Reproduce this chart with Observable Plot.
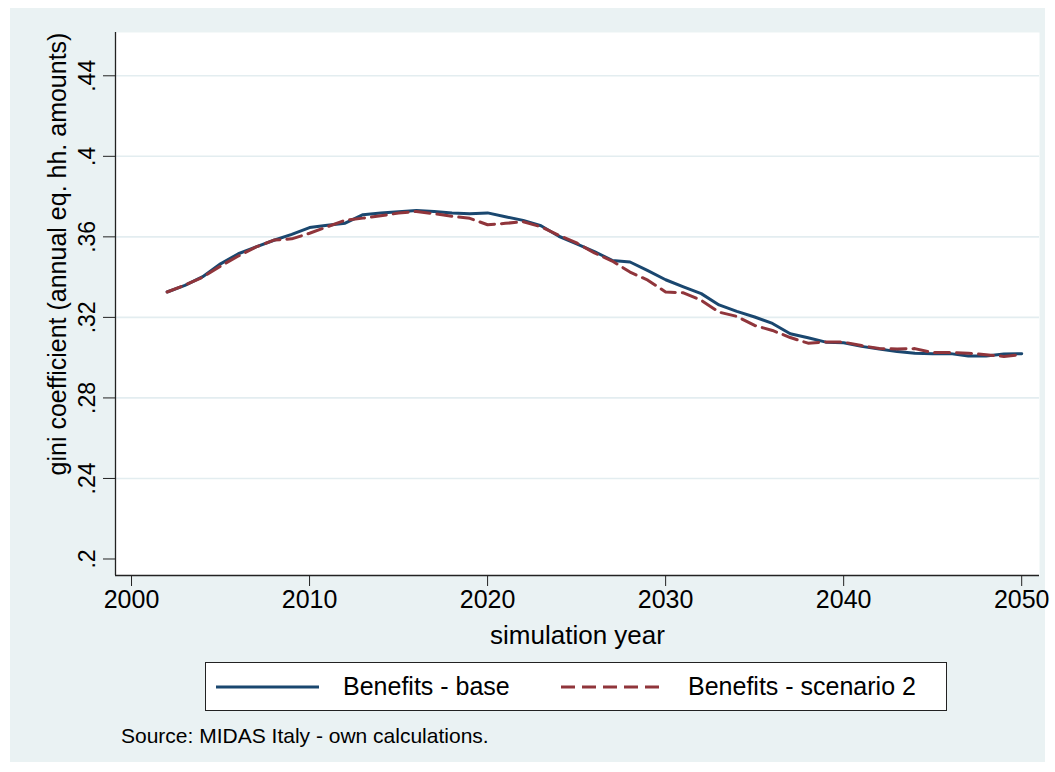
<!DOCTYPE html>
<html>
<head>
<meta charset="utf-8">
<script src="https://cdn.jsdelivr.net/npm/d3@7"></script>
<script src="https://cdn.jsdelivr.net/npm/@observablehq/plot@0.6"></script>
<style>
  body { margin: 0; background: #ffffff; font-family: "Liberation Sans", Arial, sans-serif; }
  #wrap { position: relative; width: 1055px; height: 772px; overflow: hidden; background: #ffffff; }
  #panel { position: absolute; left: 10px; top: 8px; width: 1035px; height: 754px; background: #eaf2f3; }
  #chart { position: absolute; left: 0; top: 0; }
  #legend { position: absolute; left: 205px; top: 662px; width: 740px; height: 47px; background: #ffffff; border: 1px solid #222; }
  .item { position: absolute; top: 0; height: 47px; display: flex; align-items: center; font-size: 25px; color: #000; white-space: nowrap; }
  .item svg { display: block; }
  #source { position: absolute; left: 121px; top: 724px; font-size: 21px; color: #000; white-space: nowrap; }
</style>
</head>
<body>
<div id="wrap">
  <div id="panel"></div>
  <div id="chart"></div>
  <div id="legend"></div>
  <div id="source"></div>
</div>
<script>
// ---- data ----
const years = [2002,2003,2004,2005,2006,2007,2008,2009,2010,2011,2012,2013,2014,2015,2016,2017,2018,2019,2020,2021,2022,2023,2024,2025,2026,2027,2028,2029,2030,2031,2032,2033,2034,2035,2036,2037,2038,2039,2040,2041,2042,2043,2044,2045,2046,2047,2048,2049,2050];
const benefitsBase = [0.3326,0.3359,0.3402,0.3466,0.3516,0.3550,0.3583,0.3612,0.3646,0.3658,0.3668,0.3710,0.3718,0.3725,0.3731,0.3726,0.3718,0.3715,0.3719,0.3700,0.3682,0.3655,0.3603,0.3565,0.3527,0.3483,0.3475,0.3432,0.3387,0.3352,0.3318,0.3262,0.3230,0.3202,0.3170,0.3119,0.3099,0.3077,0.3074,0.3056,0.3043,0.3030,0.3022,0.3020,0.3020,0.3008,0.3008,0.3018,0.3020];
const benefitsScenario2 = [0.3326,0.3360,0.3400,0.3455,0.3505,0.3550,0.3584,0.3590,0.3618,0.3650,0.3683,0.3693,0.3705,0.3718,0.3726,0.3715,0.3702,0.3692,0.3660,0.3667,0.3675,0.3650,0.3608,0.3570,0.3520,0.3480,0.3425,0.3385,0.3326,0.3322,0.3285,0.3226,0.3205,0.3160,0.3135,0.3100,0.3072,0.3078,0.3077,0.3060,0.3045,0.3043,0.3045,0.3025,0.3025,0.3022,0.3015,0.3006,0.3016];
const seriesNames = ["Benefits - base", "Benefits - scenario 2"];
const seriesColors = ["#1a476f", "#90353b"];
const xTicks = [2000, 2010, 2020, 2030, 2040, 2050];
const yTicks = [0.2, 0.24, 0.28, 0.32, 0.36, 0.4, 0.44];
const gridTicks = [0.24, 0.28, 0.32, 0.36, 0.4, 0.44];
const xTitle = "simulation year";
const yTitle = "gini coefficient (annual eq. hh. amounts)";
const sourceNote = "Source: MIDAS Italy - own calculations.";

// ---- build table ----
const base = years.map((y, i) => ({year: y, value: benefitsBase[i], series: seriesNames[0]}));
const scen = years.map((y, i) => ({year: y, value: benefitsScenario2[i], series: seriesNames[1]}));

const xDomain = [1999.1, 2051];
const yDomain = [0.1918, 0.4615];
const fmtY = d => String(d).replace(/^0/, "");
const font = "'Liberation Sans', Arial, sans-serif";

const chart = Plot.plot({
  width: 1055,
  height: 650,
  marginLeft: 115,
  marginRight: 16,
  marginTop: 32,
  marginBottom: 75,
  style: { background: "transparent", fontFamily: font, color: "#000", overflow: "visible" },
  x: { domain: xDomain, axis: null },
  y: { domain: yDomain, axis: null },
  marks: [
    Plot.frame({ fill: "#ffffff", stroke: "none" }),
    Plot.ruleY(gridTicks, { stroke: "#e3edf0", strokeWidth: 1.6 }),
    Plot.line(base, { x: "year", y: "value", stroke: seriesColors[0], strokeWidth: 3 }),
    Plot.line(scen, { x: "year", y: "value", stroke: seriesColors[1], strokeWidth: 3, strokeDasharray: "15,7" }),
    Plot.ruleX([xDomain[0]], { stroke: "#222", strokeWidth: 1.3 }),
    Plot.ruleY([yDomain[0]], { stroke: "#222", strokeWidth: 1.3 }),
    Plot.axisX({ ticks: xTicks, tickFormat: "d", tickSize: 11, tickPadding: 4, fontSize: 25, stroke: "#222", label: null }),
    Plot.axisY({ ticks: yTicks, tickSize: 12, tickFormat: () => "", stroke: "#222", label: null }),
    Plot.text(yTicks, { frameAnchor: "left", y: d => d, text: fmtY, rotate: -90, dx: -28, textAnchor: "middle", lineAnchor: "middle", fontSize: 23, fill: "#000" }),
    Plot.text([xTitle], { frameAnchor: "bottom", dy: 50, lineAnchor: "top", fontSize: 26, fill: "#000" }),
    Plot.text([yTitle], { frameAnchor: "left", dx: -58, dy: -50, rotate: -90, textAnchor: "middle", lineAnchor: "middle", fontSize: 25, fill: "#000" })
  ]
});
document.getElementById("chart").appendChild(chart);

// ---- legend ----
const legend = document.getElementById("legend");
const items = [
  { left: 10, text: seriesNames[0], color: seriesColors[0], dash: null },
  { left: 355, text: seriesNames[1], color: seriesColors[1], dash: "14,7" }
];
items.forEach(it => {
  const div = document.createElement("div");
  div.className = "item";
  div.style.left = it.left + "px";
  div.innerHTML = `<svg width="104" height="10"><line x1="0" y1="5" x2="103" y2="5" stroke="${it.color}" stroke-width="3" ${it.dash ? `stroke-dasharray="${it.dash}"` : ""}/></svg><span style="margin-left:23px">${it.text}</span>`;
  legend.appendChild(div);
});
document.getElementById("source").textContent = sourceNote;
</script>
</body>
</html>
